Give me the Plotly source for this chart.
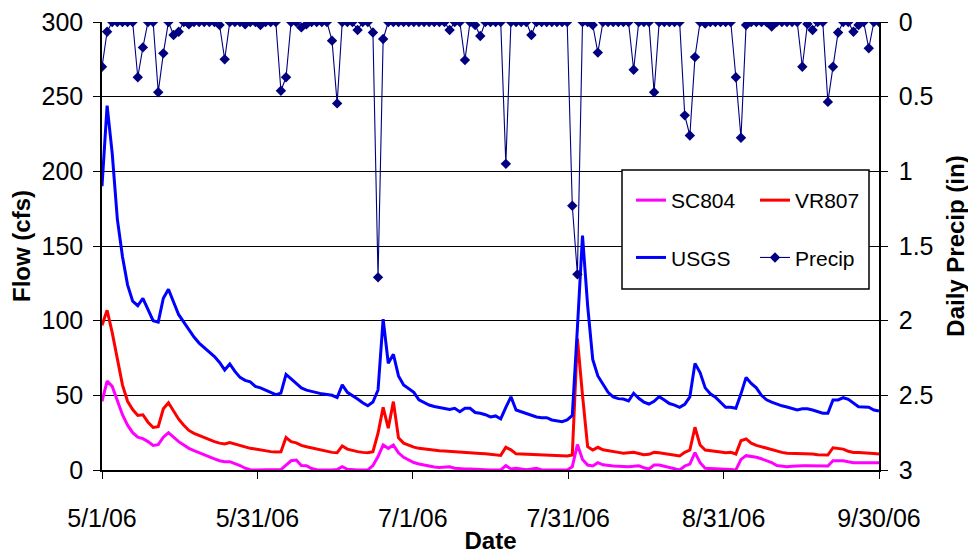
import pandas as pd
import plotly.graph_objects as go

# ---------------- data (daily, 5/1/2006 - 9/30/2006) ----------------
dates = pd.date_range("2006-05-01", "2006-09-30", freq="D")

sc804 = [
    46, 59.5, 56, 46, 37, 30, 25, 22, 21, 19,
    16.5, 17, 22, 25, 22, 19, 16.7, 14.5, 13, 11.5,
    10.5, 9, 7.5, 6.2, 5.6, 5.6, 4.5, 3, 1.2, 0.2,
    0, 0, 0, 0, 0, 0.3, 3.3, 6.2, 6.7, 3,
    2.9, 1, 0.2, 0, 0, 0, 0.3, 2.2, 0.5, 0,
    0, 0, 0, 3, 9, 16.7, 14.5, 16.7, 11.5, 8.5,
    6.7, 5, 4, 3.2, 2.4, 2, 1.6, 1.8, 2.2, 1.2,
    0.7, 0.7, 0.7, 0.4, 0.1, 0, 0, 0, 0, 2.9,
    0.7, 1.1, 0.8, 0.2, 0.6, 1.1, 0, 0, 0, 0,
    0, 0, 2.2, 17, 7, 3.3, 2.7, 4.9, 3.5, 2.9,
    2.7, 2.5, 2.2, 2.2, 2.5, 2.9, 1.5, 0.7, 3.3, 3.3,
    2.5, 1.8, 0.8, 0, 2.7, 4, 11.6, 4.9, 1.1, 1,
    0.9, 0.9, 0.6, 0.3, 0, 7.1, 9.6, 9.2, 8.5, 7.5,
    6.5, 5, 3, 2.5, 2.2, 2.5, 2.9, 2.9, 2.9, 2.9,
    2.9, 2.8, 2.7, 6.2, 6.2, 6.2, 5.5, 4.9, 4.9, 4.9,
    4.9, 4.9, 4.9,
]

vr807 = [
    97, 107, 92, 74, 57, 46, 40.5, 36.5, 37, 32,
    28.5, 29, 41, 45, 39, 34, 30, 26.5, 24.5, 23,
    21.5, 20, 19, 18, 17.4, 18.3, 17.3, 16.3, 15.2, 14.5,
    14, 13.3, 12.8, 12.3, 12, 12.2, 21.7, 19, 18.2, 16.5,
    15.6, 14.8, 14, 13, 12.3, 11.8, 11.6, 16.1, 14, 13,
    12.3, 11.8, 11.6, 12.3, 24.6, 42, 28, 45.8, 21.5, 18,
    16.5, 15.3, 14.5, 14, 13.5, 13, 12.9, 12.8, 12.5, 12,
    11.7, 11.5, 11.3, 11.2, 11, 10.8, 10.5, 10, 9.8, 15.2,
    13.5, 10.8, 10.7, 10.5, 10.2, 10, 10, 9.9, 9.8, 9.7,
    9.5, 9.4, 10, 88, 50, 15.6, 13.4, 15.2, 13.5, 12.8,
    12.3, 11.8, 11.2, 11.6, 11.8, 11, 10.2, 10.5, 11.8, 11.6,
    11, 10.5, 10, 9.4, 11.8, 13.4, 28.6, 16.7, 13.4, 12.8,
    12.3, 12, 11.6, 11.8, 10.7, 19.6, 20.8, 18, 16.5, 15.5,
    14.5, 13.5, 12.3, 11.8, 11.2, 11.2, 11.2, 11.2, 11, 10.7,
    10.2, 10, 10, 14.9, 14.5, 14, 12.5, 11.8, 11.7, 11.6,
    11.3, 11, 10.7,
]

usgs = [
    190, 244, 212, 168, 143, 124, 113, 110, 115, 107,
    100, 99, 115, 121, 113, 104, 99, 94, 89, 85,
    82, 79, 76, 72, 67, 71, 66, 62, 60, 59,
    56, 55, 53.5, 52.5, 50.5, 51.5, 64, 61, 58, 55,
    53.5, 52.5, 51.5, 51, 50.5, 50, 48.5, 57, 52, 50,
    47.5, 45, 43, 45.5, 53.6, 101, 71.5, 77.5, 63, 57,
    54.5, 52, 47, 45, 43.5, 42.5, 42, 41, 40.5, 41.3,
    39, 41.3, 41.3, 38.5, 38, 37, 35.5, 36.2, 34.2, 42,
    49, 40.2, 39, 38, 36.5, 35.5, 35, 35, 33.5, 33,
    32.4, 33.5, 36.5, 95, 157, 110, 74, 63, 57, 52,
    49, 47.8, 47.5, 46.2, 51.4, 48, 45.5, 44.2, 46, 49.1,
    46.9, 44.5, 43.5, 42, 44, 49, 71.4, 65.2, 55, 51,
    48.7, 45, 42, 42, 41.3, 51, 62, 58, 55, 50,
    47, 45.5, 44, 43, 42.2, 41, 40.2, 41, 41, 40.2,
    39, 38, 38, 46.9, 46.9, 48.4, 47.3, 45, 42.4, 42.2,
    42, 40.2, 39.5,
]

precip = [
    0.30, 0.065, 0, 0, 0, 0, 0, 0.37, 0.17, 0,
    0, 0.47, 0.21, 0, 0.087, 0.065, 0, 0.015, 0, 0,
    0, 0, 0, 0.02, 0.25, 0, 0, 0, 0.015, 0,
    0, 0.02, 0, 0, 0, 0.46, 0.37, 0, 0, 0.036,
    0.015, 0, 0, 0, 0, 0.125, 0.545, 0, 0, 0,
    0.054, 0, 0, 0.07, 1.71, 0.114, 0, 0, 0, 0,
    0, 0, 0, 0, 0, 0, 0, 0, 0.054, 0,
    0, 0.255, 0, 0.02, 0.094, 0, 0, 0, 0, 0.95,
    0, 0, 0, 0, 0.087, 0, 0, 0, 0, 0,
    0, 0, 1.23, 1.69, 0, 0, 0.02, 0.205, 0, 0,
    0, 0, 0, 0, 0.32, 0, 0, 0, 0.47, 0,
    0, 0, 0, 0, 0.625, 0.76, 0.235, 0, 0.01, 0,
    0, 0, 0, 0, 0.37, 0.775, 0.02, 0, 0, 0,
    0, 0.03, 0, 0, 0, 0, 0, 0.30, 0.013, 0.054,
    0, 0, 0.535, 0.30, 0.07, 0, 0, 0.065, 0.02, 0,
    0.176, 0, 0,
]

tick_labels = ["5/1/06", "5/31/06", "7/1/06", "7/31/06", "8/31/06", "9/30/06"]

assert len(dates) == len(sc804) == len(vr807) == len(usgs) == len(precip)

# evenly spaced date ticks (as in the original chart)
tick_vals = [dates[0] + pd.Timedelta(days=152 * k / 5) for k in range(len(tick_labels))]

FONT = "Liberation Sans, Arial, sans-serif"
TICK_FONT = dict(family=FONT, size=25, color="black")
TITLE_FONT = dict(family=FONT, size=24, color="black")

# page body has an 8px default margin; figure is sized so the plot lands where the original does
W, H = 968, 546
ML, MR, MT, MB = 94, 97, 14, 84
PW, PH = W - ML - MR, H - MT - MB


def px_x(px):  # page pixel -> paper x
    return (px - 8 - ML) / PW


def px_y(py):  # page pixel -> paper y
    return (H - MB - (py - 8)) / PH


fig = go.Figure()
fig.add_trace(go.Scatter(x=dates, y=sc804, name="SC804", mode="lines",
                         line=dict(color="#FF00FF", width=3),
                         legend="legend", legendgroup="g1"))
fig.add_trace(go.Scatter(x=dates, y=vr807, name="VR807", mode="lines",
                         line=dict(color="#FF0000", width=3),
                         legend="legend2", legendgroup="g2"))
fig.add_trace(go.Scatter(x=dates, y=usgs, name="USGS", mode="lines",
                         line=dict(color="#0000FF", width=3),
                         legend="legend", legendgroup="g3"))
fig.add_trace(go.Scatter(x=dates, y=precip, name="Precip", mode="lines+markers",
                         line=dict(color="#000080", width=1.1),
                         marker=dict(symbol="diamond", size=8, color="#000080"),
                         yaxis="y2", legend="legend2", legendgroup="g4"))

legend_common = dict(xanchor="left", yanchor="top", bgcolor="rgba(0,0,0,0)",
                     borderwidth=0, font=dict(family=FONT, size=21, color="black"),
                     tracegroupgap=27, itemwidth=30)

fig.update_layout(
    width=W, height=H,
    margin=dict(l=ML, r=MR, t=MT, b=MB, autoexpand=False),
    paper_bgcolor="white", plot_bgcolor="white",
    font=dict(family=FONT, size=24, color="black"),
    xaxis=dict(
        type="date", range=[dates[0], dates[-1]], automargin=False,
        tickvals=tick_vals, ticktext=tick_labels,
        ticks="outside", ticklen=7, tickcolor="black", tickwidth=1,
        ticklabelstandoff=18, ticklabeloverflow="allow",
        showline=True, linecolor="black", linewidth=1.5,
        showgrid=False, zeroline=False,
        tickfont=TICK_FONT,
        title=dict(text="<b>Date</b>", font=TITLE_FONT, standoff=2),
    ),
    yaxis=dict(
        range=[0, 300], dtick=50, automargin=False,
        ticks="outside", ticklen=7, tickcolor="black",
        ticklabelstandoff=5, ticklabeloverflow="allow",
        showline=True, linecolor="black", linewidth=1.5,
        showgrid=True, gridcolor="black", gridwidth=1, zeroline=False,
        tickfont=TICK_FONT,
        title=dict(text="<b>Flow (cfs)</b>", font=TITLE_FONT, standoff=11),
    ),
    yaxis2=dict(
        overlaying="y", side="right", range=[3, 0], dtick=0.5, automargin=False,
        ticks="outside", ticklen=7, tickcolor="black",
        ticklabelstandoff=6, ticklabeloverflow="allow",
        showline=True, linecolor="black", linewidth=1.5,
        showgrid=False, zeroline=False,
        tickfont=TICK_FONT,
        title=dict(text="<b>Daily Precip (in)</b>", font=TITLE_FONT, standoff=15),
    ),
    legend=dict(x=px_x(631), y=px_y(180), **legend_common),
    legend2=dict(x=px_x(755), y=px_y(180), **legend_common),
    shapes=[dict(type="rect", xref="paper", yref="paper",
                 x0=px_x(622), x1=px_x(869), y0=px_y(289), y1=px_y(170),
                 line=dict(color="black", width=1.5), fillcolor="white", layer="above")],
)

fig.write_html("out.html")
